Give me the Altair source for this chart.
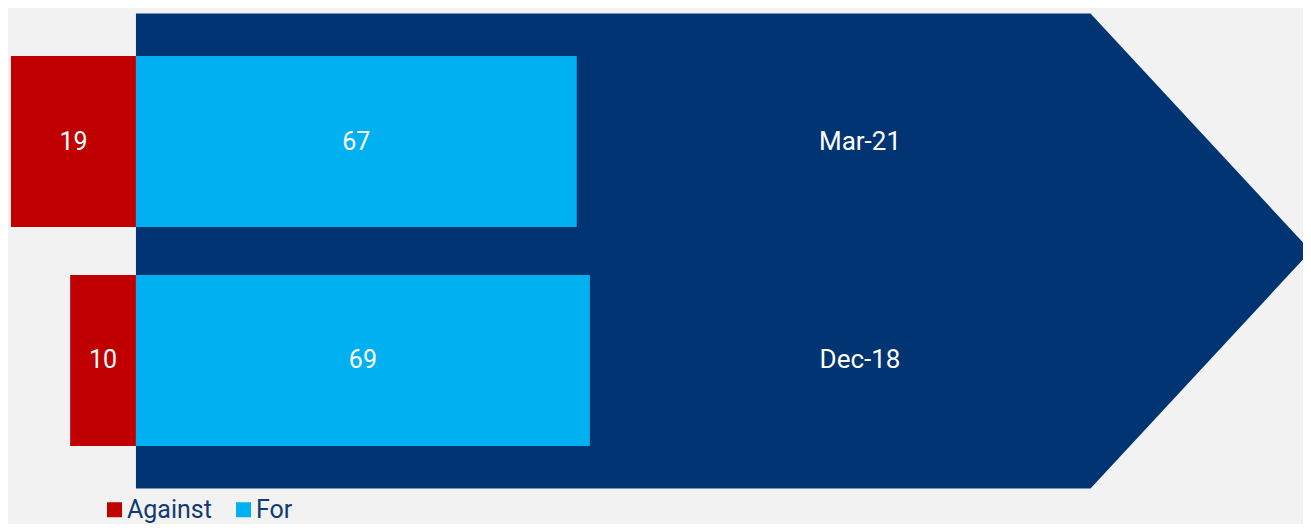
import altair as alt
import pandas as pd

# ---- data ----
dates = ["Mar-21", "Dec-18"]
against = [19, 10]
for_vals = [67, 69]
series = ["Against", "For"]
colors = ["#c00000", "#00b0f0"]

# arrow outline (in data units: x = percentage scale, y = row index scale)
arrow_x = [0, 145.1, 178.6]
arrow_top = [-0.585, -0.585, 0.5]
arrow_bottom = [1.585, 1.585, 0.5]

rows = []
for i, d in enumerate(dates):
    rows.append({"date": d, "series": "Against", "value": against[i],
                 "start": -against[i], "end": 0, "row": i})
    rows.append({"date": d, "series": "For", "value": for_vals[i],
                 "start": 0, "end": for_vals[i], "row": i})
bars = pd.DataFrame(rows)
bars["mid"] = (bars["start"] + bars["end"]) / 2
bars["y0"] = bars["row"] - 0.39
bars["y1"] = bars["row"] + 0.39

labels = pd.DataFrame({"date": dates, "row": list(range(len(dates)))})
arrow = pd.DataFrame({"x": arrow_x, "top": arrow_top, "bottom": arrow_bottom})

xscale = alt.Scale(domain=[-19.45, 177.4], nice=False, zero=False)
yscale = alt.Scale(domain=[-0.6096, 1.7466], nice=False, zero=False, reverse=True)
FONT = "Roboto"

arrow_layer = alt.Chart(arrow).mark_area(orient="vertical", color="#003473").encode(
    x=alt.X("x:Q", scale=xscale, axis=None),
    y=alt.Y("top:Q", scale=yscale, axis=None),
    y2="bottom:Q",
)

bar_layer = alt.Chart(bars).mark_bar().encode(
    x=alt.X("start:Q", scale=xscale, axis=None),
    x2="end:Q",
    y=alt.Y("y0:Q", scale=yscale, axis=None),
    y2="y1:Q",
    color=alt.Color(
        "series:N",
        scale=alt.Scale(domain=series, range=colors),
        legend=alt.Legend(
            title=None, orient="none", direction="horizontal",
            legendX=94, legendY=489, symbolType="square", symbolSize=225,
            symbolStrokeWidth=0, labelFont=FONT, labelFontSize=25,
            labelColor="#0f3b73", labelOffset=0, columnPadding=19,
            padding=0,
        ),
    ),
)

value_text = alt.Chart(bars).mark_text(
    color="white", font=FONT, fontSize=25, baseline="middle", align="center"
).encode(
    x=alt.X("mid:Q", scale=xscale, axis=None),
    y=alt.Y("row:Q", scale=yscale, axis=None),
    text="value:Q",
)

date_text = alt.Chart(labels).mark_text(
    color="white", font=FONT, fontSize=26, baseline="middle", align="center"
).encode(
    x=alt.value(852),
    y=alt.Y("row:Q", scale=yscale, axis=None),
    text="date:N",
)

chart = (
    alt.layer(arrow_layer, bar_layer, value_text, date_text)
    .properties(width=1295, height=516, padding=0, autosize=alt.AutoSizeParams(type="none"),
                background="#f2f2f2")
    .configure_view(stroke=None)
)

chart.save("out.html", embed_options={"renderer": "svg", "actions": False})
